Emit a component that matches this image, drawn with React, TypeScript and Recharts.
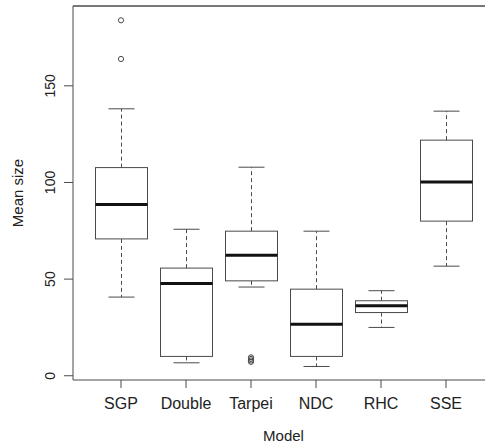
import React from 'react';
import { ComposedChart, Bar, Scatter, XAxis, YAxis, ReferenceLine, Label } from 'recharts';

const models = ['SGP', 'Double', 'Tarpei', 'NDC', 'RHC', 'SSE'];
const lowerWhisker = [40.7, 6.7, 45.9, 4.8, 25.0, 56.7];
const q1 = [70.8, 10.0, 49.1, 10.0, 32.7, 80.0];
const median = [88.6, 47.7, 62.4, 26.7, 36.2, 100.3];
const q3 = [107.7, 55.7, 74.8, 44.8, 38.8, 121.9];
const upperWhisker = [138.1, 75.8, 107.9, 74.8, 44.0, 136.9];
const outlierModels = ['SGP', 'SGP', 'Tarpei', 'Tarpei', 'Tarpei', 'Tarpei'];
const outlierValues = [183.9, 163.9, 9.5, 8.7, 7.9, 7.2];
const yTicks = [0, 50, 100, 150];
const yDomain = [-2.2, 191.3];

const rows = models.map((m, i) => ({
  model: m,
  range: [lowerWhisker[i], upperWhisker[i]],
  lo: lowerWhisker[i],
  q1: q1[i],
  med: median[i],
  q3: q3[i],
  hi: upperWhisker[i],
}));

const outlierRows = outlierModels.map((m, i) => ({ model: m, v: outlierValues[i] }));

const LINE = '#4a4a4a';

const BoxShape = (props: any) => {
  const { x, y, width, height, payload } = props;
  if (x == null || y == null) return null;
  const lo = payload.lo;
  const hi = payload.hi;
  const top = Math.min(y, y + height);
  const h = Math.abs(height);
  const py = (v: number) => top + ((hi - v) / (hi - lo)) * h;
  const cx = x + width / 2;
  const capHalf = width / 4;
  const yq1 = py(payload.q1);
  const yq3 = py(payload.q3);
  const ymed = py(payload.med);
  const ylo = py(lo);
  const yhi = py(hi);
  return (
    <g>
      <line x1={cx} x2={cx} y1={yq3} y2={yhi} stroke={LINE} strokeWidth={1} strokeDasharray="4 3" />
      <line x1={cx} x2={cx} y1={yq1} y2={ylo} stroke={LINE} strokeWidth={1} strokeDasharray="4 3" />
      <line x1={cx - capHalf} x2={cx + capHalf} y1={yhi} y2={yhi} stroke={LINE} strokeWidth={1} />
      <line x1={cx - capHalf} x2={cx + capHalf} y1={ylo} y2={ylo} stroke={LINE} strokeWidth={1} />
      <rect x={x} y={yq3} width={width} height={yq1 - yq3} fill="#fff" stroke={LINE} strokeWidth={1} />
      <line x1={x} x2={x + width} y1={ymed} y2={ymed} stroke="#111" strokeWidth={3} />
    </g>
  );
};

const OutlierShape = (props: any) => {
  const { cx, cy } = props;
  if (cx == null || cy == null) return null;
  return <circle cx={cx} cy={cy} r={2.6} fill="none" stroke={LINE} strokeWidth={1} />;
};

const YTick = (props: any) => {
  const { x, y, payload } = props;
  return (
    <text
      x={x}
      y={y}
      transform={`rotate(-90, ${x}, ${y})`}
      textAnchor="middle"
      fontSize={14}
      fill="#222"
      fontFamily="Liberation Sans, Arial, sans-serif"
    >
      {payload.value}
    </text>
  );
};

const YTitle = (props: any) => {
  const vb = props.viewBox || {};
  const cy = vb.y + vb.height / 2;
  const tx = 22.5;
  return (
    <text
      x={tx}
      y={cy}
      transform={`rotate(-90, ${tx}, ${cy})`}
      textAnchor="middle"
      fontSize={15}
      fill="#222"
      fontFamily="Liberation Sans, Arial, sans-serif"
    >
      Mean size
    </text>
  );
};

export default function App() {
  return (
    <div
      style={{
        position: 'absolute',
        left: 0,
        top: 0,
        width: 485,
        height: 447,
        overflow: 'hidden',
        background: '#fff',
      }}
    >
      <ComposedChart
        width={500}
        height={447}
        data={rows}
        margin={{ top: 6, right: 6, bottom: 0, left: 0 }}
      >
        <XAxis
          dataKey="model"
          type="category"
          allowDuplicatedCategory={false}
          height={67}
          padding={{ left: 15.5, right: 15.5 }}
          tickSize={8}
          tickMargin={10}
          axisLine={{ stroke: LINE }}
          tickLine={{ stroke: LINE }}
          tick={{ fontSize: 16, fill: '#222', fontFamily: 'Liberation Sans, Arial, sans-serif' }}
          interval={0}
        >
          <Label
            value="Model"
            position="insideBottom"
            offset={6}
            fontSize={15}
            fill="#222"
            fontFamily="Liberation Sans, Arial, sans-serif"
          />
        </XAxis>
        <YAxis
          type="number"
          domain={yDomain}
          ticks={yTicks}
          width={73}
          tickSize={9}
          tickMargin={9}
          axisLine={{ stroke: LINE }}
          tickLine={{ stroke: LINE }}
          tick={<YTick />}
          interval={0}
        >
          <Label content={<YTitle />} />
        </YAxis>
        <ReferenceLine y={yDomain[1]} stroke={LINE} strokeWidth={1.5} />
        <Bar dataKey="range" barSize={52} shape={<BoxShape />} isAnimationActive={false} />
        <Scatter data={outlierRows} dataKey="v" shape={<OutlierShape />} isAnimationActive={false} />
      </ComposedChart>
    </div>
  );
}
